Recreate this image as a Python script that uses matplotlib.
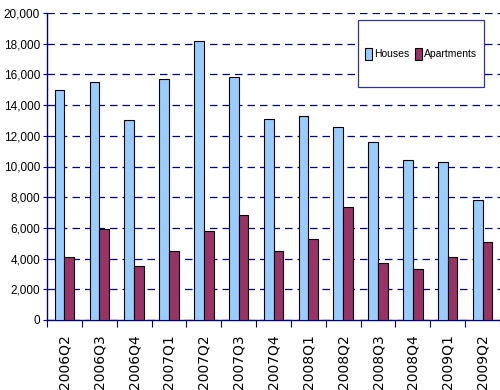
import numpy as np
import matplotlib
matplotlib.use("Agg")
import matplotlib.pyplot as plt
from matplotlib.patches import Rectangle

quarters = ["2006Q2", "2006Q3", "2006Q4", "2007Q1", "2007Q2", "2007Q3", "2007Q4",
            "2008Q1", "2008Q2", "2008Q3", "2008Q4", "2009Q1", "2009Q2"]
houses = [15000, 15500, 13000, 15700, 18200, 15800, 13100,
          13300, 12600, 11600, 10400, 10300, 7800]
apartments = [4100, 5900, 3500, 4500, 5800, 6850, 4500,
              5300, 7350, 3700, 3300, 4100, 5100]

navy = "#000080"
W, H = 500, 390

fig = plt.figure(figsize=(5, 3.9), dpi=100)
ax = fig.add_axes([47 / W, 1 - 320 / H, 1 - 47 / W, 307 / H])

x = np.arange(len(quarters))
w = 0.28
ax.bar(x - w / 2, houses, w, color="#99CCFF", edgecolor="black", linewidth=0.8,
       label="Houses", zorder=3)
ax.bar(x + w / 2, apartments, w, color="#993366", edgecolor="black", linewidth=0.8,
       label="Apartments", zorder=3)

ax.set_xlim(-0.5, len(quarters) - 0.5)
ax.set_ylim(0, 20000)
ax.set_yticks(np.arange(0, 20001, 2000))
ax.set_yticklabels([f"{v:,}" for v in range(0, 20001, 2000)],
                   fontsize=8.5, family="Liberation Sans")

# boundaries get the tick marks, centres get the labels
ax.set_xticks(np.arange(-0.5, len(quarters)), minor=False)
ax.set_xticklabels([])
ax.set_xticks(x, minor=True)
ax.set_xticklabels(quarters, minor=True, rotation=90, fontsize=10)
ax.tick_params(axis="x", which="major", length=5, color=navy, direction="out")
ax.tick_params(axis="x", which="minor", length=0, pad=10)
ax.tick_params(axis="y", length=3, color=navy, pad=2)

ax.yaxis.grid(True, color=navy, linestyle=(0, (6, 4)), linewidth=0.9, zorder=0)
for s in ["top", "right"]:
    ax.spines[s].set_visible(False)
for s in ["left", "bottom"]:
    ax.spines[s].set_color(navy)
    ax.spines[s].set_linewidth(1.0)

# legend frame drawn separately so its size can be set directly
box = Rectangle((358 / W, 1 - 87 / H), 126 / W, 67 / H, transform=fig.transFigure,
                facecolor="white", edgecolor="#333399", linewidth=0.9,
                zorder=5, clip_on=False)
ax.add_patch(box)
leg = ax.legend(loc="center", bbox_to_anchor=(421 / W, 1 - 54 / H),
                bbox_transform=fig.transFigure, ncol=2,
                prop={"family": "Liberation Sans", "size": 7.5},
                frameon=False, handlelength=0.7, handleheight=1.3,
                handletextpad=0.2, columnspacing=0.5, borderaxespad=0)
leg.set_zorder(6)

fig.savefig("out.png", dpi=100)
